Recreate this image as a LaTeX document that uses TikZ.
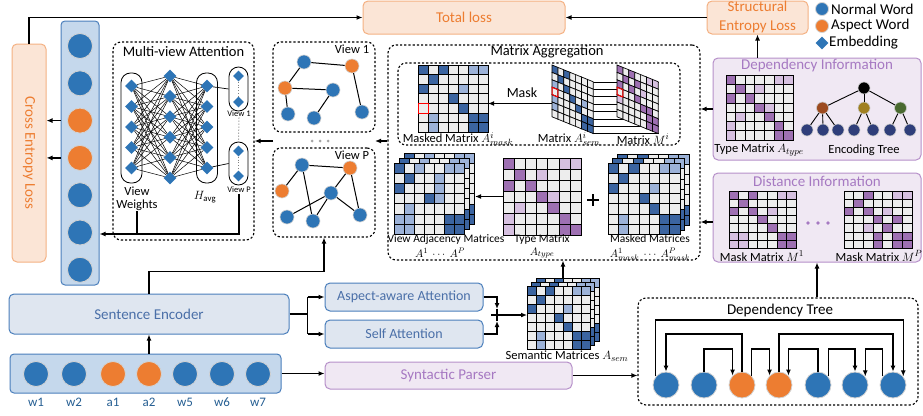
\documentclass[tikz,border=0pt]{standalone}
\usepackage{fontspec}
\setmainfont{Carlito}
\usetikzlibrary{arrows.meta,shapes.geometric,calc}

\definecolor{orT}{HTML}{ED7D31}
\definecolor{orF}{HTML}{FBE5D6}
\definecolor{orB}{HTML}{F4B183}
\definecolor{blN}{HTML}{2E75B6}
\definecolor{blF}{HTML}{C5D8EC}
\definecolor{blB}{HTML}{4A7EBB}
\definecolor{blT}{HTML}{4A6FA8}
\definecolor{gbF}{HTML}{DFE6F0}
\definecolor{puF}{HTML}{F0E8F3}
\definecolor{puB}{HTML}{B690C9}
\definecolor{puT}{HTML}{A679C2}
\definecolor{mW}{HTML}{EDEDED}
\definecolor{mD}{HTML}{3B64A0}
\definecolor{mL}{HTML}{9CB2D8}
\definecolor{mP}{HTML}{9E70B2}
\definecolor{mQ}{HTML}{D6C0E0}
\definecolor{tBr}{HTML}{9C4A1F}
\definecolor{tOl}{HTML}{A08020}
\definecolor{tGr}{HTML}{4A6A30}
\definecolor{tNv}{HTML}{2F3E7A}

\newcommand{\myfs}[1]{\fontsize{#1}{#1}\selectfont}

\def\patB{{D,W,D,W,W,L,L},{W,D,W,W,W,W,W},{D,W,W,W,L,W,W},{W,W,W,D,W,W,W},{W,W,W,W,D,W,W},{W,L,W,W,W,D,D},{W,L,W,W,W,D,D}}
\def\patV{{D,W,L,W,W,L,L},{W,D,W,W,L,W,W},{D,W,W,W,L,W,W},{W,W,W,D,L,W,W},{W,L,W,W,W,W,W},{L,L,W,W,W,D,D},{L,L,W,W,W,D,D}}
\def\patT{{P,W,W,W,W,Q,Q},{W,P,W,Q,W,W,W},{P,W,P,W,W,W,W},{W,W,W,P,Q,W,W},{W,Q,W,W,P,W,W},{Q,W,W,W,W,P,W},{Q,W,W,W,W,P,P}}
\def\patMa{{P,W,P,W,W,Q,Q},{W,P,W,W,W,W,W},{P,W,P,W,Q,W,W},{W,W,W,P,W,W,W},{W,W,W,W,P,W,W},{Q,Q,W,W,W,P,P},{Q,Q,W,W,W,P,P}}
\def\patMb{{W,W,P,W,W,Q,Q},{W,P,W,W,W,W,W},{P,W,P,W,Q,W,W},{W,W,W,P,W,P,W},{W,W,Q,W,P,W,W},{W,W,W,P,W,P,P},{W,W,W,P,W,P,P}}
\def\patS{{D,W,D,W,W,W,W},{W,D,W,W,W,W,W},{L,W,D,W,W,W,W},{W,W,W,D,W,L,W},{L,W,W,W,D,W,W},{L,W,W,W,W,D,D},{W,W,W,W,W,D,D}}
\def\patMs{{P,W,P,W,W,Q,Q},{W,P,W,P,W,W,W},{P,W,P,W,Q,W,W},{W,W,W,P,W,W,W},{Q,W,W,W,P,P,W},{W,W,W,W,W,P,P},{W,W,W,W,W,P,P}}

\newcommand{\gridmat}[5]{%
  \foreach \mrow [count=\mi from 0] in #5 {
    \foreach \mcell [count=\mj from 0] in \mrow {
      \draw[cellline, fill=m\mcell] ({#1+\mj*#3},{#2+\mi*#4}) rectangle ++(#3,#4);
    }
  }
}
\newcommand{\skewmat}[3]{%
  \foreach \mrow [count=\mi from 0] in #3 {
    \foreach \mcell [count=\mj from 0] in \mrow {
      \draw[cellline, fill=m\mcell] ({#1+\mj*5.9},{#2+\mj*2.4+\mi*7.4}) -- ++(5.9,2.4) -- ++(0,7.4) -- ++(-5.9,-2.4) -- cycle;
    }
  }
}

\tikzset{
  lossbox/.style={draw=orB, fill=orF, line width=1pt, rounded corners=5pt, text=orT, font=\myfs{15}, inner sep=0pt},
  bluebox/.style={draw=blB, fill=gbF, line width=1pt, rounded corners=5pt, text=blT, inner sep=0pt},
  colbox/.style={draw=blB, fill=blF, line width=1pt, rounded corners=4pt, inner sep=0pt},
  purbox/.style={draw=puB, fill=puF, line width=1pt, rounded corners=5pt, inner sep=0pt},
  dbox/.style={draw, dash pattern=on 2.2pt off 2pt, line width=1.1pt, rounded corners=8pt, inner sep=0pt},
  word/.style={circle, fill=#1, draw=gray!35, line width=0.8pt, minimum size=25pt, inner sep=0pt},
  gn/.style={circle, fill=#1, draw=gray!35, line width=0.6pt, minimum size=14pt, inner sep=0pt},
  tn/.style={circle, fill=#1, draw=gray!40, line width=0.6pt, minimum size=12pt, inner sep=0pt},
  emb/.style={diamond, fill=blN, minimum width=13pt, minimum height=13pt, inner sep=0pt},
  capsule/.style={draw, line width=0.8pt, rounded corners=9.5pt, inner sep=0pt},
  arr/.style={-{Latex[length=6pt,width=5pt]}, line width=1.2pt},
  ln/.style={line width=1.2pt},
  cellline/.style={draw=black, line width=0.7pt},
  lbl/.style={font=\myfs{12.5}, inner sep=0pt},
  sublbl/.style={font=\myfs{11.5}, inner sep=0pt},
  mathlbl/.style={font=\myfs{11}, inner sep=0pt, anchor=north},
  box/.style={inner sep=0pt, outer sep=0pt},
}

\begin{document}
\begin{tikzpicture}[x=1pt,y=-1pt]
\useasboundingbox (0,0) rectangle (923,415);

%---- losses
\node[lossbox, minimum width=202pt, minimum height=33pt] (total) at (464,17.5) {Total loss};
\node[lossbox, minimum width=101pt, minimum height=33pt, align=center, font=\fontsize{15}{19}\selectfont] (sel) at (757.5,17.5) {Structural\\Entropy Loss};
\node[lossbox, rotate=-90, minimum width=218pt, minimum height=34pt] (ce) at (29,153) {Cross Entropy Loss};

%---- legend
\node[word=blN, minimum size=13pt] (lgn) at (822,9) {};
\node[anchor=west, font=\myfs{15}, inner sep=0pt] (lgnt) at (831,9) {Normal Word};
\node[word=orT, minimum size=13pt] (lga) at (822,26) {};
\node[anchor=west, font=\myfs{15}, inner sep=0pt] (lgat) at (831,26) {Aspect Word};
\node[emb] (lge) at (822,43) {};
\node[anchor=west, font=\myfs{15}, inner sep=0pt] (lget) at (829,43) {Embedding};

%---- encoder column
\node[colbox, minimum width=38pt, minimum height=264pt] (col) at (80,153) {};
\foreach \k/\c in {1/blN,2/blN,3/orT,4/orT,5/blN,6/blN,7/blN}
  \node[word=\c] (e\k) at (80,{46+37.3*(\k-1)}) {};
\draw[arr] (e3.center -| col.west) -- (e3.center -| ce.north);
\draw[arr] (e4.center -| col.west) -- (e4.center -| ce.north);
\draw[arr] (ce.west) |- (total.west);

%---- multi-view attention
\node[dbox, minimum width=141pt, minimum height=198pt] (mva) at (183.5,141) {};
\node[font=\myfs{14.5}, inner sep=0pt] (mvat) at (183.5,52) {Multi-view Attention};
\node[capsule, minimum width=21pt, minimum height=110pt] (capL) at (131.5,128) {};
\node[capsule, minimum width=21pt, minimum height=110pt] (capH) at (207,128) {};
\node[capsule, minimum width=19pt, minimum height=44pt] (cap1) at (238.5,89) {};
\node[capsule, minimum width=19pt, minimum height=43pt] (capP) at (238.5,163.5) {};
\foreach \k in {1,...,5} {
  \node[emb] (l\k) at (131.5,{86+20.5*(\k-1)}) {};
  \node[emb] (h\k) at (207,{86+20.5*(\k-1)}) {};
}
\foreach \k in {1,...,6} \node[emb] (m\k) at (170,{76+20.4*(\k-1)}) {};
\foreach \a in {1,...,5} \foreach \b in {1,...,6} {
  \draw[line width=0.5pt] (l\a) -- (m\b);
  \draw[line width=0.5pt] (m\b) -- (h\a);
}
\draw[line width=0.7pt] (h1) -- (cap1.west);
\draw[line width=0.7pt] (h5) -- (capP.west);
\node[emb, minimum width=11pt, minimum height=11pt] (c1a) at (238.5,76) {};
\node[emb, minimum width=11pt, minimum height=11pt] (c1b) at (238.5,102) {};
\node[emb, minimum width=11pt, minimum height=11pt] (cpa) at (238.5,151) {};
\node[emb, minimum width=11pt, minimum height=11pt] (cpb) at (238.5,176) {};
\draw[gray, dotted, line width=0.8pt] (c1a) -- (c1b);
\draw[gray, dotted, line width=0.8pt] (cpa) -- (cpb);
\node[font=\myfs{8.5}, inner sep=0.5pt] (lv1) at (239,114) {View 1};
\node[font=\myfs{8.5}, inner sep=0.5pt] (lvp) at (239,190) {View P};
\draw[gray, dotted, line width=1pt] (lv1.south) -- (capP.north);
\node[align=center, font=\fontsize{12.5}{13}\selectfont, inner sep=0pt] (vw) at (137,199) {View\\Weights};
\node[font=\myfs{12.5}, inner sep=0pt] (hav) at (205,197) {$H_{\mathrm{avg}}$};
\coordinate (bot) at (0,234);
\draw[ln] (vw.south) -- (vw.south |- bot);
\draw[arr] (lvp.south) |- (col.east |- bot);

%---- views
\node[dbox, minimum width=102pt, minimum height=90pt] (view1) at (324,87) {};
\node[dbox, minimum width=102pt, minimum height=89pt] (viewp) at (324,192.5) {};
\node[font=\myfs{12.5}, inner sep=0pt] (v1t) at (352,49) {View 1};
\node[font=\myfs{12.5}, inner sep=0pt] (vpt) at (352,155) {View P};
\node[gn=blN] (a1) at (304,62) {};
\node[gn=orT] (a2) at (352,66) {};
\node[gn=orT] (a3) at (285,88) {};
\node[gn=blN] (a4) at (333,90) {};
\node[gn=blN] (a5) at (288,114) {};
\node[gn=blN] (a6) at (314,118) {};
\node[gn=blN] (a7) at (362,112) {};
\foreach \p/\q in {a1/a2,a1/a3,a3/a4,a3/a5,a4/a6,a2/a7} \draw[line width=1pt] (\p) -- (\q);
\node[gn=blN] (b1) at (302,165) {};
\node[gn=orT] (b2) at (350,168) {};
\node[gn=orT] (b3) at (282,191) {};
\node[gn=blN] (b4) at (331,193) {};
\node[gn=blN] (b5) at (287,217) {};
\node[gn=blN] (b6) at (313,221) {};
\node[gn=blN] (b7) at (360,215) {};
\foreach \p/\q in {b1/b2,b1/b3,b1/b6,b2/b4,b4/b5,b4/b6,b4/b7,b2/b7} \draw[line width=1pt] (\p) -- (\q);
\foreach \x in {312,320,328} \fill[gray!70] (\x,141) circle (1.5pt);
\coordinate (vr) at (375,141);
\coordinate (vl) at (273,141);

%---- matrix aggregation
\node[dbox, minimum width=312pt, minimum height=215pt] (agg) at (544,152.5) {};
\node[dbox, minimum width=282pt, minimum height=82pt] (aggin) at (539,104) {};
\node[font=\myfs{14.5}, inner sep=0pt] (aggt) at (547,52) {Matrix Aggregation};
\draw[arr] (agg.west |- vr) -- (vr);
\draw[arr] (vl) -- (vl -| mva.east);

% masked matrix
\node[box, minimum width=70pt, minimum height=67.2pt] (mmask) at (453,98.6) {};
\gridmat{418}{65}{10}{9.6}{\patB}
\draw[red, line width=1pt] (418,{65+4*9.6}) rectangle ++(10,9.6);
\node[lbl] (mmaskt) at (458,139) {Masked Matrix $A^{i}_{mask}$};
% A_sem and M
\foreach \k in {0,...,7} \draw[line width=0.5pt] (593.3,{81.8+7.4*\k}) -- ++(66,0);
\node[box, minimum width=41pt, minimum height=69pt] (asem) at (572.7,99.5) {};
\skewmat{552}{65}{\patS}
\draw[red, line width=1pt] (552,{65+3*7.4}) -- ++(5.9,2.4) -- ++(0,7.4) -- ++(-5.9,-2.4) -- cycle;
\skewmat{617}{65}{\patMs}
\draw[red, line width=1pt] (617,{65+3*7.4}) -- ++(5.9,2.4) -- ++(0,7.4) -- ++(-5.9,-2.4) -- cycle;
\node[lbl] (asemt) at (569,139) {Matrix $A^{i}_{sem}$};
\node[lbl] (mit) at (643,139) {Matrix $M^{i}$};
\draw[arr] ([yshift=-4pt]asem.west) -- ([yshift=-4pt]asem.west -| mmask.east);
\node[font=\myfs{14}, inner sep=0pt] (maskt) at (522,93) {Mask};

% view adjacency stack
\node[box, minimum width=81pt, minimum height=82pt] (vam) at (434.5,194) {};
\gridmat{404}{153}{10.1}{10.2}{\patV}
\gridmat{399}{158}{10.1}{10.2}{\patV}
\gridmat{394}{163}{10.1}{10.2}{\patV}
\node[sublbl] (vamt) at (446,239) {View Adjacency Matrices};
\node[mathlbl] (vamt2) at (440,247.5) {$A^1\ \cdots\ A^P$};
% type matrix
\node[box, minimum width=78.4pt, minimum height=77pt] (tm) at (542.2,196.5) {};
\gridmat{503}{158}{11.2}{11}{\patT}
\node[sublbl] (tmt) at (542,239) {Type Matrix};
\node[mathlbl] (tmt2) at (542,247.5) {$A_{type}$};
\draw[arr] (tm.west) -- (tm.west -| vam.east);
\draw[line width=2pt] (587,200) -- (599,200) (593,194) -- (593,206);
% masked matrices stack
\node[box, minimum width=81pt, minimum height=82pt] (mms) at (648.5,194) {};
\gridmat{617}{154}{10.3}{10.2}{\patB}
\gridmat{612.5}{158.5}{10.3}{10.2}{\patB}
\gridmat{608}{163}{10.3}{10.2}{\patB}
\node[sublbl] (mmst) at (650,239) {Masked Matrices};
\node[mathlbl] (mmst2) at (650,247.5) {$A^1_{mask}\ \cdots\ A^P_{mask}$};

%---- dependency information
\node[purbox, minimum width=208pt, minimum height=102pt] (depinfo) at (817,109) {};
\node[text=puT, font=\myfs{15}, inner sep=0pt] (dit) at (817,66) {Dependency Information};
\gridmat{726}{75}{9.6}{9.3}{\patT}
\node[lbl] (dtmt) at (759,150) {Type Matrix $A_{type}$};
\node[tn=black] (r0) at (864,88) {};
\node[tn=tBr] (r1) at (822.5,108) {};
\node[tn=tOl] (r2) at (864,108) {};
\node[tn=tGr] (r3) at (900.5,108) {};
\foreach \k/\x in {1/807,2/823,3/838,4/854,5/873,6/890,7/910} \node[tn=tNv] (t\k) at (\x,130) {};
\foreach \p/\q in {r0/r1,r0/r2,r0/r3,r1/t1,r1/t2,r1/t3,r2/t4,r2/t5,r3/t6,r3/t7} \draw[line width=0.9pt] (\p) -- (\q);
\node[lbl] (ett) at (864,150) {Encoding Tree};
\draw[arr] (depinfo.west) -- (depinfo.west -| agg.east);
\draw[arr] (depinfo.north -| sel.south) -- (sel.south);
\draw[arr] (sel.west) -- (total.east);

%---- distance information
\node[purbox, minimum width=208pt, minimum height=89pt] (dist) at (817,217.5) {};
\node[text=puT, font=\myfs{15}, inner sep=0pt] (dst) at (817,181) {Distance Information};
\gridmat{729}{191}{9.6}{8.2}{\patMa}
\gridmat{844}{191}{9.7}{8.2}{\patMb}
\foreach \x in {808,818,828} \fill[puT] (\x,223) circle (1.8pt);
\node[lbl] (m1t) at (762,256) {Mask Matrix $M^1$};
\node[lbl] (mpt) at (879,256) {Mask Matrix $M^P$};
\draw[arr] ([yshift=-4.5pt]dist.west) -- ([yshift=-4.5pt]dist.west -| agg.east);

%---- sentence encoder & words
\node[bluebox, minimum width=280pt, minimum height=40pt, font=\myfs{15}] (senc) at (149,314) {Sentence Encoder};
\node[colbox, minimum width=271pt, minimum height=39pt] (wbox) at (145.5,373.5) {};
\foreach \k/\x/\c/\t in {1/36/blN/w1,2/74/blN/w2,3/113/orT/a1,4/149/orT/a2,5/185/blN/w5,6/222/blN/w6,7/258/blN/w7} {
  \node[word=\c] (w\k) at (\x,374) {};
  \node[text=blN!80!black, font=\myfs{13}, inner sep=0pt] (wl\k) at (\x,402) {\t};
}
\draw[arr] (senc.south |- wbox.north) -- (senc.south);
\draw[arr] (senc.north) -- ++(0,-22) -| (viewp.south);

%---- attention boxes
\node[bluebox, minimum width=158pt, minimum height=28pt, font=\myfs{14}] (aspect) at (404,297) {Aspect-aware Attention};
\node[bluebox, minimum width=158pt, minimum height=28pt, font=\myfs{14}] (self) at (404,334) {Self Attention};
\draw[ln] (senc.east) -- ++(18,0) coordinate (br);
\draw[arr] (br |- aspect.west) -- (aspect.west);
\draw[arr] (br |- self.west) -- (self.west);
\draw[ln] (br |- aspect.west) -- (br |- self.west);
\node[box, minimum size=12pt] (plus2) at (497,315) {};
\draw[line width=2pt] (491,315) -- (503,315) (497,309) -- (497,321);
\draw[arr] (aspect.east) -| (plus2.north);
\draw[arr] (self.east) -| (plus2.south);

%---- semantic matrices
\node[box, minimum width=72pt, minimum height=71pt] (sem) at (563,313.5) {};
\gridmat{536}{278}{9}{9}{\patB}
\gridmat{531.5}{282}{9}{9}{\patB}
\gridmat{527}{286}{9}{9}{\patB}
\node[lbl] (semt) at (567,356) {Semantic Matrices $A_{sem}$};
\draw[arr] (plus2.east) -- (plus2.east -| sem.west);
\draw[arr] (sem.north) -- (sem.north |- agg.south);

%---- syntactic parser
\node[purbox, minimum width=247pt, minimum height=27pt, text=puT, font=\myfs{15}] (synp) at (448.5,375.5) {Syntactic Parser};
\draw[arr] (wbox.east) -- (wbox.east -| synp.west);

%---- dependency tree
\node[dbox, minimum width=280pt, minimum height=107pt] (dtree) at (778,351.5) {};
\node[font=\myfs{15}, inner sep=0pt] (dtt) at (780,310) {Dependency Tree};
\draw[arr] (synp.east) -- (synp.east -| dtree.west);
\draw[arr] (dist.south |- dtree.north) -- (dist.south);
\foreach \k/\x/\c in {1/666/blN,2/704/blN,3/742/orT,4/779/orT,5/818/blN,6/855/blN,7/893/blN}
  \node[word=\c, minimum size=26pt] (d\k) at (\x,385) {};
\coordinate (LA) at (0,320);
\coordinate (LB) at (0,334);
\coordinate (LC) at (0,349);
\draw[arr] (d1.140) -- (d1.140 |- LA) -- (d7.40 |- LA) -- (d7.40);
\draw[arr] (d3.north) -- (d3.north |- LB) -- (d1.north |- LB) -- (d1.north);
\draw[arr] (d2.north) -- (d2.north |- LC) -- (d3.135 |- LC) -- (d3.135);
\draw[arr] (d3.45) -- (d3.45 |- LC) -- (d4.135 |- LC) -- (d4.135);
\draw[arr] (d4.north) -- (d4.north |- LB) -- (d7.north |- LB) -- (d7.north);
\draw[arr] (d5.north) -- (d5.north |- LC) -- (d4.45 |- LC) -- (d4.45);
\draw[arr] (d5.40) -- (d5.40 |- LC) -- (d6.north |- LC) -- (d6.north);
\draw[arr] (d7.140) -- (d7.140 |- LC) -- (d6.40 |- LC) -- (d6.40);
\end{tikzpicture}
\end{document}
